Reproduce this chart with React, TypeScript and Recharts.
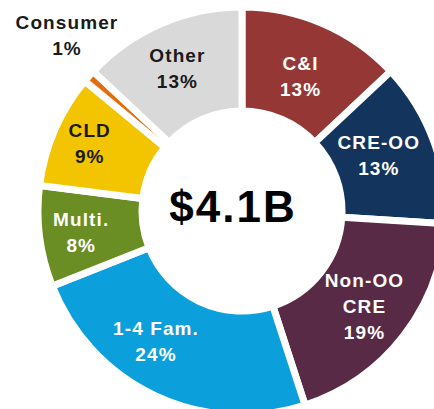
import React from 'react'
import { PieChart, Pie, Cell } from 'recharts'

// loan portfolio mix, share of total (%)
const categories = ['C&I', 'CRE-OO', 'Non-OO CRE', '1-4 Fam.', 'Multi.', 'CLD', 'Consumer', 'Other']
const shares = [13, 13, 19, 24, 8, 9, 1, 13]
const labelLines = [['C&I'], ['CRE-OO'], ['Non-OO', 'CRE'], ['1-4 Fam.'], ['Multi.'], ['CLD'], ['Consumer'], ['Other']]
const totalLabel = '$4.1B'

const fills = ['#953735', '#13345c', '#582a45', '#0b9fdb', '#6a8d24', '#f2c500', '#e46c0a', '#d9d9d9']
const textColors = ['#fff', '#fff', '#fff', '#fff', '#fff', '#1a1a1a', '#1a1a1a', '#1a1a1a']
// small hand nudges so labels sit where the original has them
const labelNudge = [[-3, 7], [-9, -3], [0, 0], [-20, -10], [-7, 2], [-10, -6], [11, -12], [-3, -1]]

const RAD = Math.PI / 180
const font = '"Liberation Sans", Arial, sans-serif'
const CX = 237
const CY = 206

function renderLabel(props: any) {
  const { cx, cy, midAngle, index } = props
  const r = index === 6 ? 248 : 155 // consumer sits outside the ring
  const x = cx + r * Math.cos(-midAngle * RAD) + labelNudge[index][0]
  const y = cy + r * Math.sin(-midAngle * RAD) + labelNudge[index][1]
  const lines = [...labelLines[index], `${shares[index]}%`]
  const lh = 26
  const y0 = y - ((lines.length - 1) * lh) / 2
  return (
    <text
      key={`lbl-${index}`}
      textAnchor="middle"
      dominantBaseline="central"
      fill={textColors[index]}
      fontFamily={font}
      fontWeight="bold"
      fontSize={19}
      letterSpacing={1.1}
    >
      {lines.map((l, i) => (
        <tspan key={i} x={x} y={y0 + i * lh}>
          {l}
        </tspan>
      ))}
    </text>
  )
}

export default function App() {
  const data = categories.map((name, i) => ({ name, value: shares[i] }))
  return (
    <div style={{ position: 'absolute', left: 0, top: 0, width: 434, height: 409, background: '#fff' }}>
      <PieChart width={434} height={409}>
        <Pie
          data={data}
          dataKey="value"
          cx={CX}
          cy={CY}
          innerRadius={100}
          outerRadius={204}
          startAngle={90}
          endAngle={-270}
          stroke="#fff"
          strokeWidth={7}
          labelLine={false}
          label={renderLabel}
          isAnimationActive={false}
        >
          {data.map((d, i) => (
            <Cell key={d.name} fill={fills[i]} />
          ))}
        </Pie>
      </PieChart>
      <svg width={434} height={409} style={{ position: 'absolute', left: 0, top: 0, pointerEvents: 'none' }}>
        <text
          x={CX - 4}
          y={CY + 16}
          textAnchor="middle"
          fill="#000"
          fontFamily={font}
          fontWeight="bold"
          fontSize={44}
          letterSpacing={2}
        >
          {totalLabel}
        </text>
      </svg>
    </div>
  )
}
